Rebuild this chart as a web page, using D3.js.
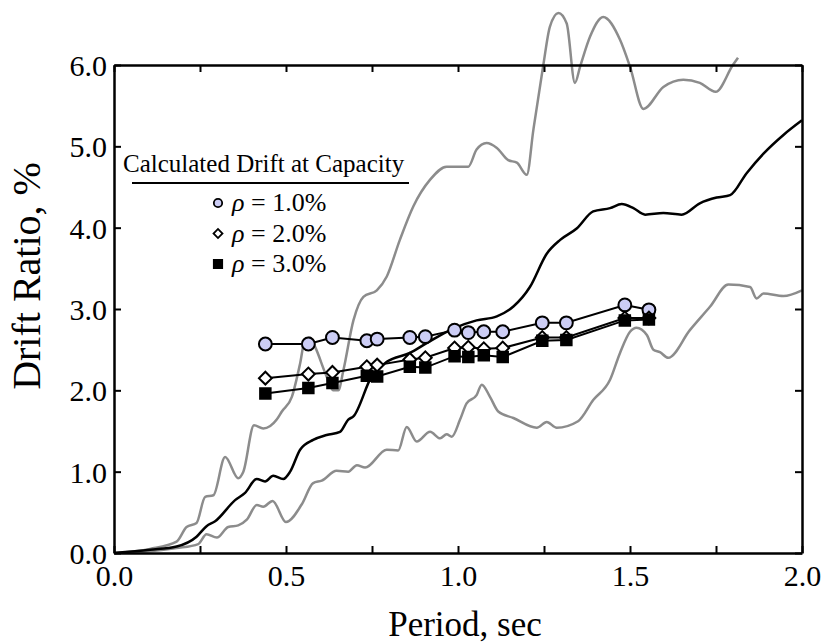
<!DOCTYPE html>
<html>
<head>
<meta charset="utf-8">
<script src="https://cdn.jsdelivr.net/npm/d3@7"></script>
<style>
  body { margin: 0; background: #fff; }
  svg text { font-family: "Liberation Serif", "Times New Roman", serif; fill: #000; }
</style>
</head>
<body>
<div id="chart"></div>
<script>
// calculated drift at capacity (markers)
var markerPeriod = [0.44, 0.565, 0.635, 0.735, 0.765, 0.86, 0.905, 0.99, 1.03, 1.075, 1.13, 1.245, 1.315, 1.485, 1.555];
var drift10 = [2.57, 2.57, 2.65, 2.61, 2.63, 2.65, 2.66, 2.74, 2.71, 2.72, 2.72, 2.83, 2.83, 3.05, 2.99];
var drift20 = [2.15, 2.20, 2.22, 2.29, 2.31, 2.38, 2.40, 2.52, 2.53, 2.51, 2.52, 2.65, 2.65, 2.89, 2.89];
var drift30 = [1.96, 2.03, 2.09, 2.18, 2.17, 2.29, 2.28, 2.42, 2.41, 2.43, 2.41, 2.61, 2.62, 2.86, 2.87];

// median spectrum (black)
var medianT = [0, 0.105, 0.182, 0.24, 0.269, 0.294, 0.352, 0.381, 0.415, 0.439, 0.463, 0.492, 0.512, 0.541, 0.579, 0.618, 0.657, 0.681, 0.696, 0.749, 0.793, 0.86, 0.909, 0.986, 1.054, 1.113, 1.161, 1.209, 1.258, 1.297, 1.345, 1.393, 1.442, 1.476, 1.51, 1.544, 1.597, 1.65, 1.703, 1.752, 1.791, 1.839, 1.888, 1.946, 2.0];
var medianD = [0, 0.04, 0.08, 0.2, 0.33, 0.39, 0.65, 0.74, 0.91, 0.88, 0.95, 0.91, 1.0, 1.27, 1.39, 1.45, 1.49, 1.64, 1.68, 2.17, 2.35, 2.46, 2.58, 2.76, 2.86, 2.91, 3.03, 3.27, 3.68, 3.85, 3.99, 4.2, 4.24, 4.29, 4.24, 4.16, 4.18, 4.16, 4.3, 4.37, 4.4, 4.67, 4.91, 5.14, 5.32];

// upper bound (gray)
var upperT = [0, 0.105, 0.182, 0.211, 0.24, 0.265, 0.289, 0.323, 0.361, 0.376, 0.407, 0.434, 0.473, 0.488, 0.517, 0.541, 0.555, 0.57, 0.584, 0.618, 0.637, 0.652, 0.667, 0.696, 0.725, 0.764, 0.793, 0.831, 0.87, 0.919, 0.967, 1.03, 1.054, 1.083, 1.113, 1.146, 1.171, 1.2, 1.219, 1.248, 1.267, 1.292, 1.316, 1.34, 1.355, 1.384, 1.422, 1.471, 1.5, 1.539, 1.597, 1.655, 1.703, 1.749, 1.799, 1.814];
var upperD = [0, 0.05, 0.14, 0.32, 0.37, 0.69, 0.71, 1.18, 0.92, 1.0, 1.57, 1.53, 1.64, 1.74, 1.92, 2.33, 2.62, 2.65, 2.54, 2.17, 2.0, 2.0, 2.25, 2.86, 3.15, 3.23, 3.4, 3.85, 4.26, 4.59, 4.75, 4.75, 4.96, 5.04, 4.98, 4.83, 4.8, 4.65, 5.2, 6.0, 6.47, 6.64, 6.51, 5.78, 5.98, 6.35, 6.59, 6.31, 5.98, 5.46, 5.73, 5.82, 5.78, 5.67, 6.0, 6.09];

// lower bound (gray)
var lowerT = [0, 0.105, 0.182, 0.245, 0.269, 0.299, 0.332, 0.361, 0.386, 0.415, 0.434, 0.461, 0.5, 0.546, 0.579, 0.604, 0.647, 0.681, 0.706, 0.73, 0.793, 0.826, 0.851, 0.88, 0.919, 0.948, 0.967, 0.982, 1.006, 1.025, 1.054, 1.069, 1.093, 1.117, 1.161, 1.229, 1.258, 1.287, 1.349, 1.393, 1.442, 1.471, 1.5, 1.519, 1.549, 1.568, 1.587, 1.611, 1.674, 1.733, 1.786, 1.849, 1.868, 1.888, 1.946, 2.0];
var lowerD = [0, 0.02, 0.06, 0.11, 0.23, 0.19, 0.32, 0.34, 0.41, 0.59, 0.57, 0.64, 0.38, 0.6, 0.86, 0.89, 1.01, 1.0, 1.08, 1.05, 1.27, 1.26, 1.55, 1.37, 1.49, 1.41, 1.46, 1.43, 1.64, 1.84, 1.94, 2.07, 1.92, 1.74, 1.66, 1.54, 1.61, 1.54, 1.62, 1.88, 2.13, 2.46, 2.72, 2.77, 2.68, 2.5, 2.47, 2.4, 2.74, 3.03, 3.3, 3.27, 3.13, 3.19, 3.16, 3.23];

var xTicks = [0, 0.25, 0.5, 0.75, 1.0, 1.25, 1.5, 1.75, 2.0];
var xLabels = [0, 0.5, 1.0, 1.5, 2.0];
var yTicks = [0, 1, 2, 3, 4, 5, 6];
var legendLabels = ["1.0%", "2.0%", "3.0%"];

var W = 830, H = 643;
var margin = {top: 65, right: 28, bottom: 90, left: 114};
var width = W - margin.left - margin.right,
    height = H - margin.top - margin.bottom;

var svg = d3.select("#chart").append("svg")
    .attr("width", W).attr("height", H);
var g = svg.append("g")
    .attr("transform", "translate(" + margin.left + "," + margin.top + ")");

var x = d3.scaleLinear().domain([0, 2]).range([0, width]);
var y = d3.scaleLinear().domain([0, 6]).range([height, 0]);

function zip(a, b) { return a.map(function(v, i) { return [v, b[i]]; }); }

var curve = d3.line()
    .x(function(d) { return x(d[0]); })
    .y(function(d) { return y(d[1]); })
    .curve(d3.curveMonotoneX);

// spectra
g.append("path").datum(zip(lowerT, lowerD))
  .attr("d", curve).attr("fill", "none").attr("stroke", "#8c8c8c").attr("stroke-width", 2.5);
g.append("path").datum(zip(upperT, upperD))
  .attr("d", curve).attr("fill", "none").attr("stroke", "#8c8c8c").attr("stroke-width", 2.5);
g.append("path").datum(zip(medianT, medianD))
  .attr("d", curve).attr("fill", "none").attr("stroke", "#000").attr("stroke-width", 2.5);

// axes (box with inward ticks)
function styleAxis(sel) {
  sel.select(".domain").attr("stroke-width", 2.5);
  sel.selectAll(".tick line").attr("stroke-width", 2);
  sel.selectAll("text").style("font-size", "30px")
    .style("font-family", "'Liberation Serif', serif");
}
var fmt = d3.format(".1f");
var gx = g.append("g").attr("transform", "translate(0," + height + ")")
  .call(d3.axisBottom(x).tickValues(xTicks).tickSizeInner(-7).tickSizeOuter(0).tickPadding(12)
    .tickFormat(function(d) { return xLabels.indexOf(d) >= 0 ? fmt(d) : ""; }));
styleAxis(gx);
var gxt = g.append("g")
  .call(d3.axisTop(x).tickValues(xTicks).tickSizeInner(-7).tickSizeOuter(0).tickFormat(""));
styleAxis(gxt);
var gy = g.append("g")
  .call(d3.axisLeft(y).tickValues(yTicks).tickSizeInner(-7).tickSizeOuter(0).tickPadding(7).tickFormat(fmt));
styleAxis(gy);
gy.selectAll("text").attr("dy", "0.35em");
var gyr = g.append("g").attr("transform", "translate(" + width + ",0)")
  .call(d3.axisRight(y).tickValues(yTicks).tickSizeInner(-7).tickSizeOuter(0).tickFormat(""));
styleAxis(gyr);

// marker series
var lineStraight = d3.line()
    .x(function(d) { return x(d[0]); })
    .y(function(d) { return y(d[1]); });

// diamond = square turned 45 degrees
var series = [
  {vals: drift10, sym: d3.symbolCircle, size: 130, rot: 0, fill: "#cccdf5"},
  {vals: drift20, sym: d3.symbolSquare, size: 82, rot: 45, fill: "#fff"},
  {vals: drift30, sym: d3.symbolSquare, size: 110, rot: 0, fill: "#000"}
];
series.forEach(function(s) {
  var pts = zip(markerPeriod, s.vals);
  g.append("path").datum(pts).attr("d", lineStraight)
    .attr("fill", "none").attr("stroke", "#000").attr("stroke-width", 2);
});
series.forEach(function(s) {
  var pts = zip(markerPeriod, s.vals);
  g.append("g").selectAll("path").data(pts).enter().append("path")
    .attr("transform", function(d) { return "translate(" + x(d[0]) + "," + y(d[1]) + ") rotate(" + s.rot + ")"; })
    .attr("d", d3.symbol().type(s.sym).size(s.size))
    .attr("fill", s.fill).attr("stroke", "#000").attr("stroke-width", 2);
});

// legend
svg.append("text").attr("x", 123).attr("y", 172)
  .style("font-size", "25px").text("Calculated Drift at Capacity");
svg.append("line").attr("x1", 132).attr("x2", 409).attr("y1", 183).attr("y2", 183)
  .attr("stroke", "#000").attr("stroke-width", 2);
var legendSize = [55, 40, 70];
series.forEach(function(s, i) {
  var ly = 203 + i * 30.5;
  svg.append("path").attr("transform", "translate(218," + ly + ") rotate(" + s.rot + ")")
    .attr("d", d3.symbol().type(s.sym).size(legendSize[i]))
    .attr("fill", s.fill).attr("stroke", "#000").attr("stroke-width", 1.8);
  var t = svg.append("text").attr("x", 232).attr("y", ly + 8).style("font-size", "26px");
  t.append("tspan").style("font-style", "italic").text("\u03c1");
  t.append("tspan").text(" = " + legendLabels[i]);
});

// axis titles
svg.append("text").attr("x", margin.left + width / 2 + 7).attr("y", 636)
  .attr("text-anchor", "middle").style("font-size", "35px").text("Period, sec");
svg.append("text").attr("transform", "translate(40," + 276 + ") rotate(-90)")
  .attr("text-anchor", "middle").style("font-size", "40px").text("Drift Ratio, %");
</script>
</body>
</html>
